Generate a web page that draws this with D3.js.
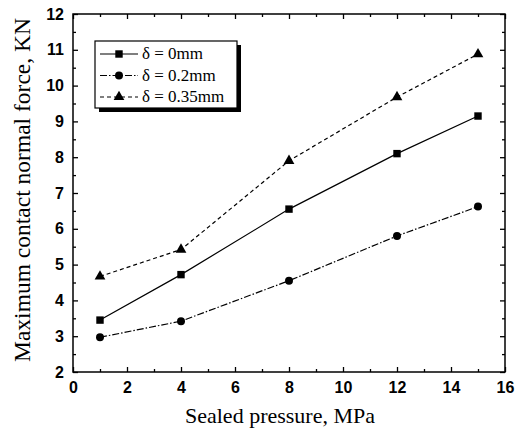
<!DOCTYPE html>
<html><head><meta charset="utf-8">
<script src="https://cdn.jsdelivr.net/npm/d3@7"></script>
<style>body{margin:0;background:#fff}svg{display:block}</style>
</head><body>
<script>
const pressure = [1, 4, 8, 12, 15];
const force0 = [3.45, 4.72, 6.55, 8.10, 9.15];
const force02 = [2.97, 3.42, 4.55, 5.80, 6.62];
const force035 = [4.67, 5.42, 7.90, 9.68, 10.88];
const seriesNames = ["δ = 0mm", "δ = 0.2mm", "δ = 0.35mm"];
const xTicks = [0, 2, 4, 6, 8, 10, 12, 14, 16];
const yTicks = [2, 3, 4, 5, 6, 7, 8, 9, 10, 11, 12];

const W = 515, H = 434;
const m = {left: 73, right: 10, top: 14, bottom: 62};
const svg = d3.select("body").append("svg").attr("width", W).attr("height", H);
const x = d3.scaleLinear().domain([0, 16]).range([m.left, W - m.right]);
const y = d3.scaleLinear().domain([2, 12]).range([H - m.bottom, m.top]);

const series = [
  {name: seriesNames[0], vals: force0, dash: null, sym: d3.symbolSquare, size: 55},
  {name: seriesNames[1], vals: force02, dash: "7,2,1.5,2", sym: d3.symbolCircle, size: 50},
  {name: seriesNames[2], vals: force035, dash: "4,3", sym: d3.symbolTriangle, size: 50}
];

// frame
svg.append("rect").attr("x", x(0)).attr("y", y(12)).attr("width", x(16) - x(0)).attr("height", y(2) - y(12))
  .attr("fill", "none").attr("stroke", "#000").attr("stroke-width", 1.5);

const tickFont = "Liberation Sans, Arial, sans-serif";
const serif = "Liberation Serif, Times New Roman, serif";
// axes (ticks inward)
svg.append("g").attr("transform", `translate(0,${y(2)})`)
  .call(d3.axisBottom(x).tickValues(xTicks).tickSize(-5).tickPadding(10).tickFormat(d3.format("d")));
svg.append("g").attr("transform", `translate(0,${y(12)})`)
  .call(d3.axisTop(x).tickValues(xTicks).tickSize(-5).tickFormat(""));
svg.append("g").attr("transform", `translate(${x(0)},0)`)
  .call(d3.axisLeft(y).tickValues(yTicks).tickSize(-5).tickPadding(9).tickFormat(d3.format("d")));
svg.append("g").attr("transform", `translate(${x(16)},0)`)
  .call(d3.axisRight(y).tickValues(yTicks).tickSize(-5).tickFormat(""));
// minor ticks
const xMinor = d3.range(1, 16, 2), yMinor = d3.range(2.5, 12, 1);
svg.append("g").attr("transform", `translate(0,${y(2)})`).call(d3.axisBottom(x).tickValues(xMinor).tickSize(-3).tickFormat(""));
svg.append("g").attr("transform", `translate(0,${y(12)})`).call(d3.axisTop(x).tickValues(xMinor).tickSize(-3).tickFormat(""));
svg.append("g").attr("transform", `translate(${x(0)},0)`).call(d3.axisLeft(y).tickValues(yMinor).tickSize(-3).tickFormat(""));
svg.append("g").attr("transform", `translate(${x(16)},0)`).call(d3.axisRight(y).tickValues(yMinor).tickSize(-3).tickFormat(""));
svg.selectAll(".domain").remove();
svg.selectAll(".tick line").attr("stroke", "#000").attr("stroke-width", 1.3);
svg.selectAll(".tick text").attr("font-family", tickFont).attr("font-size", 16).attr("font-weight", "bold").attr("fill", "#000");

// lines and markers
const line = d3.line().x((d, i) => x(pressure[i])).y(d => y(d));
series.forEach(s => {
  svg.append("path").attr("d", line(s.vals)).attr("fill", "none").attr("stroke", "#000")
    .attr("stroke-width", 1.2).attr("stroke-dasharray", s.dash);
  svg.append("g").selectAll("path").data(s.vals).join("path")
    .attr("transform", (d, i) => `translate(${x(pressure[i])},${y(d)})`)
    .attr("d", d3.symbol().type(s.sym).size(s.size)).attr("fill", "#000");
});

// legend
const lg = {x: 95, y: 41, w: 142, h: 67};
svg.append("rect").attr("x", lg.x + 4).attr("y", lg.y + 4).attr("width", lg.w).attr("height", lg.h).attr("fill", "#000");
svg.append("rect").attr("x", lg.x).attr("y", lg.y).attr("width", lg.w).attr("height", lg.h)
  .attr("fill", "#fff").attr("stroke", "#000").attr("stroke-width", 1.2);
series.forEach((s, i) => {
  const yy = lg.y + 13 + i * 21.5;
  svg.append("line").attr("x1", lg.x + 5).attr("x2", lg.x + 43).attr("y1", yy).attr("y2", yy)
    .attr("stroke", "#000").attr("stroke-width", 1.2).attr("stroke-dasharray", s.dash);
  svg.append("path").attr("transform", `translate(${lg.x + 24},${yy})`)
    .attr("d", d3.symbol().type(s.sym).size(s.size)).attr("fill", "#000");
  svg.append("text").attr("x", lg.x + 47).attr("y", yy + 5).text(s.name)
    .attr("font-family", serif).attr("font-size", 17).attr("fill", "#000");
});

// axis titles
svg.append("text").attr("x", 280).attr("y", 423).attr("text-anchor", "middle")
  .attr("font-family", serif).attr("font-size", 22).text("Sealed pressure, MPa");
svg.append("text").attr("transform", `translate(30,190) rotate(-90)`).attr("text-anchor", "middle")
  .attr("font-family", serif).attr("font-size", 23.5).text("Maximum contact normal force, KN");
</script>
</body></html>
